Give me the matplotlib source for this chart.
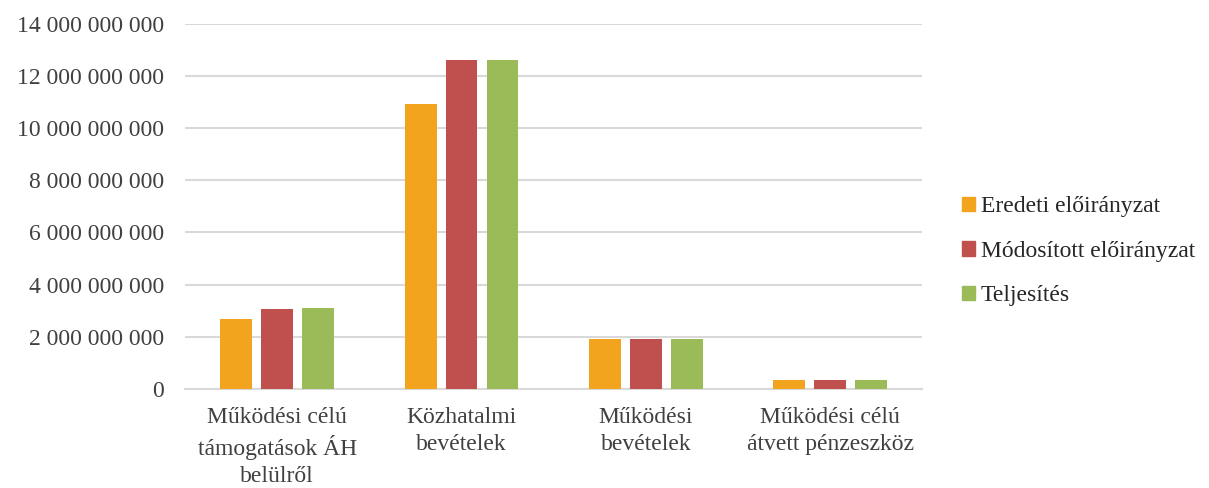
import numpy as np
import matplotlib
matplotlib.use("Agg")
import matplotlib.pyplot as plt
from matplotlib.patches import Patch
from matplotlib.ticker import FuncFormatter

# Data
categories = ["Működési célú\ntámogatások ÁH\nbelülről", "Közhatalmi\nbevételek",
              "Működési\nbevételek", "Működési célú\nátvett pénzeszköz"]
series_names = ["Eredeti előirányzat", "Módosított előirányzat", "Teljesítés"]
eredeti = [2.67e9, 10.92e9, 1.93e9, 0.36e9]
modositott = [3.05e9, 12.62e9, 1.93e9, 0.36e9]
teljesites = [3.10e9, 12.62e9, 1.93e9, 0.36e9]
colors = ["#F2A41E", "#C0504D", "#9BBB59"]

plt.rcParams['font.family'] = ['Liberation Serif', 'DejaVu Serif']

fig = plt.figure(figsize=(12.09, 4.88), dpi=100)
ax = fig.add_axes([0.153, 0.203, 0.610, 0.748])

x = np.arange(len(categories))
width = 0.173
step = 0.222
for i, (vals, col) in enumerate(zip([eredeti, modositott, teljesites], colors)):
    ax.bar(x + (i - 1) * step, vals, width, color=col, zorder=3)

ax.set_xlim(-0.5, len(categories) - 0.5)
ax.set_ylim(0, 14e9)
ax.set_yticks(np.arange(0, 14e9 + 1, 2e9))
ax.yaxis.set_major_formatter(FuncFormatter(lambda v, p: f"{int(round(v)):,}".replace(",", " ")))
ax.grid(axis='y', color='#D9D9D9', linewidth=1.5, zorder=0)
ax.set_xticks(x)
ax.set_xticklabels(categories, linespacing=1.35)

for s in ['top', 'right', 'left']:
    ax.spines[s].set_visible(False)
ax.spines['bottom'].set_color('#D9D9D9')
ax.spines['bottom'].set_linewidth(1.5)
ax.tick_params(axis='both', length=0, labelsize=17, colors='#404040')
ax.tick_params(axis='x', pad=13)
ax.tick_params(axis='y', pad=15)

handles = [Patch(color=c) for c in colors]
fig.legend(handles, series_names, loc='center left', bbox_to_anchor=(0.778, 0.485),
           frameon=False, fontsize=17, handlelength=0.55, handleheight=0.55,
           handletextpad=0.25, labelspacing=1.0, labelcolor='#262626')

fig.savefig("out.png", dpi=100)
